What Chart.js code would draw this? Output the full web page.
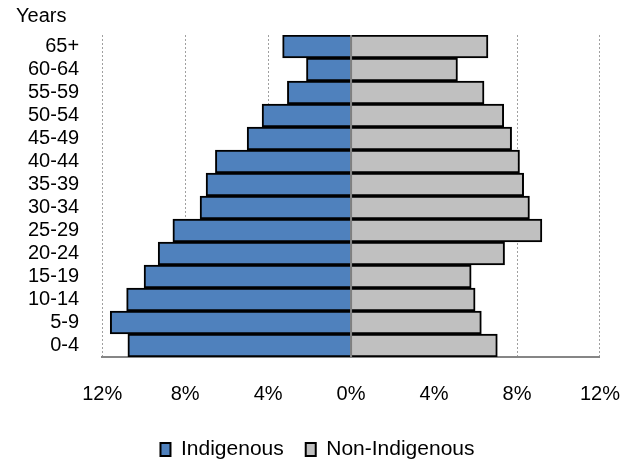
<!DOCTYPE html>
<html>
<head>
<meta charset="utf-8">
<script src="https://cdn.jsdelivr.net/npm/chart.js@4"></script>
<style>
  html, body { margin: 0; padding: 0; background: #fff; }
  #wrap { width: 636px; height: 464px; position: relative; }
</style>
</head>
<body>
<div id="wrap"><canvas id="pyramid"></canvas></div>
<script>
// --- data (% of population) ---
const ageGroups = ['65+', '60-64', '55-59', '50-54', '45-49', '40-44', '35-39',
                   '30-34', '25-29', '20-24', '15-19', '10-14', '5-9', '0-4'];
const indigenous = [3.3, 2.15, 3.07, 4.29, 5.01, 6.54, 6.99, 7.28, 8.59, 9.3, 9.98, 10.82, 11.61, 10.76];
const nonIndigenous = [6.6, 5.13, 6.41, 7.36, 7.74, 8.12, 8.32, 8.6, 9.2, 7.4, 5.79, 5.98, 6.28, 7.05];
const xTicks = [-12, -8, -4, 0, 4, 8, 12];

const FAMILY = "'Liberation Sans', Arial, sans-serif";
const FONT = { family: FAMILY, size: 20, weight: 'normal' };

// gray line at 0%, drawn over the bars like the original
const zeroLine = {
  id: 'zeroLine',
  afterDatasetsDraw(chart) {
    const { ctx, chartArea, scales } = chart;
    const x = scales.x.getPixelForValue(0);
    ctx.save();
    ctx.strokeStyle = '#7f7f7f';
    ctx.lineWidth = 2;
    ctx.beginPath();
    ctx.moveTo(x, chartArea.top);
    ctx.lineTo(x, chartArea.bottom);
    ctx.stroke();
    ctx.restore();
  }
};

new Chart(document.getElementById('pyramid'), {
  type: 'bar',
  data: {
    labels: ageGroups,
    datasets: [
      {
        label: 'Indigenous',
        data: indigenous.map(v => -v),
        backgroundColor: '#4f81bd',
        borderColor: '#000',
        borderWidth: 2,
        categoryPercentage: 1,
        barPercentage: 1
      },
      {
        label: 'Non-Indigenous',
        data: nonIndigenous,
        backgroundColor: '#c0c0c0',
        borderColor: '#000',
        borderWidth: 2,
        categoryPercentage: 1,
        barPercentage: 1
      }
    ]
  },
  options: {
    indexAxis: 'y',
    responsive: true,
    maintainAspectRatio: false,
    animation: false,
    layout: { padding: { left: 16, right: 17, top: 0, bottom: -6 } },
    plugins: {
      title: {
        display: true,
        text: 'Years',
        align: 'start',
        color: '#000',
        font: FONT,
        padding: { top: 4, bottom: 7 }
      },
      legend: {
        position: 'bottom',
        labels: {
          color: '#000',
          font: { family: FAMILY, size: 21 },
          boxWidth: 10,
          boxHeight: 13,
          padding: 22
        }
      },
      tooltip: { enabled: false }
    },
    scales: {
      x: {
        stacked: true,
        min: -12,
        max: 12,
        afterBuildTicks(scale) {
          scale.ticks = xTicks.map(v => ({ value: v }));
        },
        afterFit(scale) { scale.height -= 14; },
        ticks: {
          color: '#000',
          font: { family: FAMILY, size: 20, lineHeight: 2.1 },
          padding: 16,
          callback: v => Math.abs(v) + '%'
        },
        grid: {
          drawTicks: false,
          lineWidth: 1,
          color: ctx => (ctx.tick && ctx.tick.value === 0) ? 'rgba(0,0,0,0)' : '#a0a0a0'
        },
        border: { display: true, color: '#868686', width: 2, dash: [2, 2] }
      },
      y: {
        stacked: true,
        afterFit(scale) { scale.width -= 11; },
        ticks: {
          color: '#000',
          font: FONT,
          padding: 23,
          autoSkip: false
        },
        grid: { display: false, drawTicks: false },
        border: { display: false }
      }
    }
  },
  plugins: [zeroLine]
});
</script>
</body>
</html>
